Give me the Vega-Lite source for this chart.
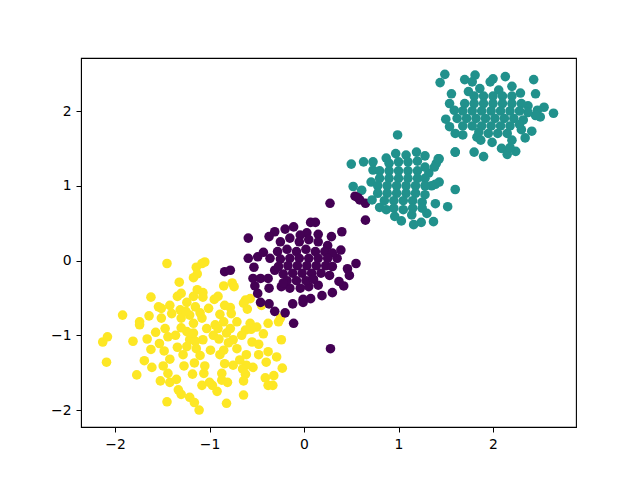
{"$schema":"https://vega.github.io/schema/vega-lite/v6.json","width":495,"height":369,"autosize":{"type":"none"},"padding":{"left":81,"top":58,"right":64,"bottom":53},"background":"white","view":{"stroke":"#000","strokeWidth":1.1,"fill":"white"},"title":{"text":"CSDN @PlutoCtx","orient":"bottom","anchor":"end","dx":48,"offset":31,"color":"#aaaaaa","fontSize":12.5,"font":"Liberation Sans","fontWeight":"normal"},
"datasets":{"pts":[
{"c":"y","x":-1.45,"y":-0.04},{"c":"y","x":-1.05,"y":-0.02},{"c":"y","x":-1.08,"y":-0.04},{"c":"y","x":-1.14,"y":-0.09},{"c":"y","x":-1.13,"y":-0.18},{"c":"y","x":-1.17,"y":-0.23},{"c":"y","x":-1.32,"y":-0.29},{"c":"y","x":-0.85,"y":-0.34},{"c":"y","x":-0.76,"y":-0.30},{"c":"y","x":-0.74,"y":-0.35},{"c":"y","x":-1.62,"y":-0.49},{"c":"y","x":-1.34,"y":-0.48},{"c":"y","x":-1.30,"y":-0.44},{"c":"y","x":-1.13,"y":-0.39},{"c":"y","x":-1.07,"y":-0.43},{"c":"y","x":-1.07,"y":-0.49},{"c":"y","x":-1.17,"y":-0.48},{"c":"y","x":-0.91,"y":-0.48},{"c":"y","x":-0.95,"y":-0.52},{"c":"y","x":-1.92,"y":-0.73},{"c":"y","x":-1.64,"y":-0.74},{"c":"y","x":-1.74,"y":-0.82},{"c":"y","x":-1.74,"y":-0.86},{"c":"y","x":-1.54,"y":-0.62},{"c":"y","x":-1.51,"y":-0.64},{"c":"y","x":-1.42,"y":-0.60},{"c":"y","x":-1.24,"y":-0.56},{"c":"y","x":-1.15,"y":-0.62},{"c":"y","x":-1.01,"y":-0.64},{"c":"y","x":-1.31,"y":-0.66},{"c":"y","x":-1.40,"y":-0.71},{"c":"y","x":-1.30,"y":-0.77},{"c":"y","x":-1.51,"y":-0.77},{"c":"y","x":-0.89,"y":-0.72},{"c":"y","x":-0.84,"y":-0.60},{"c":"y","x":-0.78,"y":-0.63},{"c":"y","x":-0.77,"y":-0.71},{"c":"y","x":-0.62,"y":-0.53},{"c":"y","x":-0.57,"y":-0.51},{"c":"y","x":-0.64,"y":-0.57},{"c":"y","x":-0.60,"y":-0.65},{"c":"y","x":-0.45,"y":-0.60},{"c":"y","x":-0.38,"y":-0.84},{"c":"y","x":-0.27,"y":-0.82},{"c":"y","x":-0.25,"y":-0.77},{"c":"y","x":-0.57,"y":-0.84},{"c":"y","x":-0.50,"y":-0.89},{"c":"y","x":-0.43,"y":-0.98},{"c":"y","x":-0.62,"y":-0.93},{"c":"y","x":-0.24,"y":-1.06},{"c":"y","x":-0.55,"y":-1.09},{"c":"y","x":-0.48,"y":-1.12},{"c":"y","x":-0.38,"y":-1.22},{"c":"y","x":-0.48,"y":-1.26},{"c":"y","x":-0.29,"y":-1.29},{"c":"y","x":-0.40,"y":-1.36},{"c":"y","x":-0.23,"y":-1.44},{"c":"y","x":-0.54,"y":-1.43},{"c":"y","x":-0.61,"y":-1.40},{"c":"y","x":-0.62,"y":-1.52},{"c":"y","x":-0.32,"y":-1.54},{"c":"y","x":-0.41,"y":-1.57},{"c":"y","x":-0.38,"y":-1.67},{"c":"y","x":-0.33,"y":-1.67},{"c":"y","x":-0.64,"y":-1.61},{"c":"y","x":-0.64,"y":-1.80},{"c":"y","x":-0.82,"y":-1.91},{"c":"y","x":-0.81,"y":-1.63},{"c":"y","x":-0.87,"y":-1.51},{"c":"y","x":-0.87,"y":-1.60},{"c":"y","x":-0.92,"y":-1.75},{"c":"y","x":-0.97,"y":-1.67},{"c":"y","x":-1.00,"y":-1.63},{"c":"y","x":-1.08,"y":-1.67},{"c":"y","x":-1.05,"y":-1.41},{"c":"y","x":-1.06,"y":-1.51},{"c":"y","x":-1.18,"y":-1.52},{"c":"y","x":-1.16,"y":-1.37},{"c":"y","x":-1.27,"y":-1.41},{"c":"y","x":-1.11,"y":-2.00},{"c":"y","x":-1.16,"y":-1.90},{"c":"y","x":-1.21,"y":-1.83},{"c":"y","x":-1.30,"y":-1.79},{"c":"y","x":-1.33,"y":-1.73},{"c":"y","x":-1.45,"y":-1.89},{"c":"y","x":-1.42,"y":-1.63},{"c":"y","x":-1.35,"y":-1.59},{"c":"y","x":-1.52,"y":-1.61},{"c":"y","x":-1.44,"y":-1.51},{"c":"y","x":-1.49,"y":-1.41},{"c":"y","x":-1.61,"y":-1.43},{"c":"y","x":-1.69,"y":-1.34},{"c":"y","x":-1.77,"y":-1.53},{"c":"y","x":-2.09,"y":-1.36},{"c":"y","x":-2.13,"y":-1.09},{"c":"y","x":-2.08,"y":-1.02},{"c":"y","x":-1.81,"y":-1.08},{"c":"y","x":-1.66,"y":-1.05},{"c":"y","x":-1.62,"y":-1.19},{"c":"y","x":-1.57,"y":-0.96},{"c":"y","x":-1.53,"y":-1.11},{"c":"y","x":-1.48,"y":-1.21},{"c":"y","x":-1.42,"y":-1.32},{"c":"y","x":-1.34,"y":-1.16},{"c":"y","x":-1.28,"y":-1.26},{"c":"y","x":-1.36,"y":-1.00},{"c":"y","x":-1.47,"y":-0.91},{"c":"y","x":-1.44,"y":-1.02},{"c":"y","x":-1.24,"y":-0.95},{"c":"y","x":-1.17,"y":-0.84},{"c":"y","x":-1.08,"y":-0.77},{"c":"y","x":-1.21,"y":-1.06},{"c":"y","x":-1.14,"y":-1.18},{"c":"y","x":-1.07,"y":-1.06},{"c":"y","x":-0.99,"y":-1.20},{"c":"y","x":-1.03,"y":-0.91},{"c":"y","x":-0.94,"y":-0.86},{"c":"y","x":-0.85,"y":-0.82},{"c":"y","x":-0.78,"y":-0.91},{"c":"y","x":-0.71,"y":-0.82},{"c":"y","x":-0.82,"y":-0.97},{"c":"y","x":-0.75,"y":-1.06},{"c":"y","x":-0.85,"y":-1.20},{"c":"y","x":-0.71,"y":-1.18},{"c":"y","x":-0.89,"y":-1.26},{"c":"y","x":-0.61,"y":-1.26},{"c":"y","x":-0.84,"y":-1.38},{"c":"y","x":-0.75,"y":-1.40},{"c":"y","x":-0.68,"y":-1.33},{"c":"y","x":-1.10,"y":-1.27},{"c":"y","x":-1.24,"y":-1.15},{"c":"y","x":-1.17,"y":-0.97},{"c":"y","x":-1.21,"y":-0.73},{"c":"y","x":-0.96,"y":-1.00},{"c":"y","x":-0.91,"y":-0.91},{"c":"y","x":-0.66,"y":-1.00},{"c":"y","x":-1.25,"y":-0.68},{"c":"y","x":-1.1,"y":-0.7},{"c":"y","x":-0.8,"y":-1.1},{"c":"y","x":-0.9,"y":-1.05},{"c":"y","x":-1.3,"y":-0.9},{"c":"y","x":-1.15,"y":-1.08},{"c":"y","x":-0.65,"y":-1.45},{"c":"y","x":-0.56,"y":-0.92},
{"c":"t","x":0.52,"y":0.99},{"c":"t","x":0.61,"y":0.94},
{"c":"p","x":0.275,"y":0.765},{"c":"p","x":0.54,"y":0.86},{"c":"p","x":0.59,"y":0.81},{"c":"p","x":0.57,"y":0.84},{"c":"p","x":0.65,"y":0.765},{"c":"p","x":0.65,"y":0.54},{"c":"p","x":0.07,"y":0.51},{"c":"p","x":0.12,"y":0.51},{"c":"p","x":-0.11,"y":0.45},{"c":"p","x":-0.20,"y":0.42},{"c":"p","x":-0.31,"y":0.385},{"c":"p","x":0.40,"y":0.385},{"c":"p","x":0.29,"y":0.32},{"c":"p","x":-0.59,"y":0.30},{"c":"p","x":-0.37,"y":0.32},{"c":"p","x":0.03,"y":0.37},{"c":"p","x":0.15,"y":0.35},{"c":"p","x":-0.04,"y":0.34},{"c":"p","x":0.39,"y":0.14},{"c":"p","x":0.35,"y":0.03},{"c":"p","x":0.55,"y":-0.04},{"c":"p","x":0.46,"y":-0.11},{"c":"p","x":0.48,"y":-0.20},{"c":"p","x":0.42,"y":-0.34},{"c":"p","x":0.37,"y":-0.28},{"c":"p","x":0.30,"y":-0.43},{"c":"p","x":0.19,"y":-0.47},{"c":"p","x":0.28,"y":-1.18},{"c":"p","x":-0.11,"y":-0.84},{"c":"p","x":-0.20,"y":-0.70},{"c":"p","x":-0.31,"y":-0.68},{"c":"p","x":-0.37,"y":-0.58},{"c":"p","x":-0.46,"y":-0.56},{"c":"p","x":-0.49,"y":-0.44},{"c":"p","x":-0.52,"y":-0.34},{"c":"p","x":-0.54,"y":-0.24},{"c":"p","x":-0.46,"y":-0.24},{"c":"p","x":-0.38,"y":-0.24},{"c":"p","x":-0.37,"y":-0.37},{"c":"p","x":-0.53,"y":-0.09},{"c":"p","x":-0.59,"y":0.03},{"c":"p","x":-0.49,"y":0.05},{"c":"p","x":-0.43,"y":0.11},{"c":"p","x":-0.36,"y":0.03},{"c":"p","x":-0.84,"y":-0.15},{"c":"p","x":-0.78,"y":-0.13},{"c":"p","x":-0.12,"y":-0.58},{"c":"p","x":-0.01,"y":-0.56},{"c":"p","x":-0.01,"y":-0.52},{"c":"p","x":0.07,"y":-0.51},{"c":"p","x":0.05,"y":-0.35},{"c":"p","x":-0.04,"y":-0.37},{"c":"p","x":-0.15,"y":-0.37},{"c":"p","x":-0.24,"y":-0.35},{"c":"p","x":0.15,"y":-0.33},{"c":"p","x":-0.31,"y":-0.13},{"c":"p","x":-0.25,"y":0.25},{"c":"p","x":-0.15,"y":0.3},{"c":"p","x":-0.05,"y":0.25},{"c":"p","x":0.05,"y":0.28},{"c":"p","x":0.15,"y":0.25},{"c":"p","x":0.25,"y":0.2},{"c":"p","x":-0.28,"y":0.12},{"c":"p","x":-0.18,"y":0.15},{"c":"p","x":-0.08,"y":0.12},{"c":"p","x":0.02,"y":0.15},{"c":"p","x":0.12,"y":0.12},{"c":"p","x":0.22,"y":0.12},{"c":"p","x":0.3,"y":0.1},{"c":"p","x":-0.25,"y":0.02},{"c":"p","x":-0.15,"y":0.03},{"c":"p","x":-0.05,"y":0.03},{"c":"p","x":0.05,"y":0.03},{"c":"p","x":0.15,"y":0.03},{"c":"p","x":0.25,"y":0.03},{"c":"p","x":-0.27,"y":-0.08},{"c":"p","x":-0.17,"y":-0.07},{"c":"p","x":-0.07,"y":-0.07},{"c":"p","x":0.03,"y":-0.07},{"c":"p","x":0.13,"y":-0.07},{"c":"p","x":0.23,"y":-0.07},{"c":"p","x":0.3,"y":-0.08},{"c":"p","x":-0.22,"y":-0.18},{"c":"p","x":-0.12,"y":-0.17},{"c":"p","x":-0.02,"y":-0.17},{"c":"p","x":0.08,"y":-0.17},{"c":"p","x":0.18,"y":-0.17},{"c":"p","x":0.27,"y":-0.2},{"c":"p","x":-0.18,"y":-0.27},{"c":"p","x":-0.08,"y":-0.27},{"c":"p","x":0.02,"y":-0.27},{"c":"p","x":0.1,"y":-0.25},{"c":"p","x":-0.22,"y":-0.3},
{"c":"t","x":0.99,"y":1.68},{"c":"t","x":0.97,"y":1.43},{"c":"t","x":1.19,"y":1.45},{"c":"t","x":1.08,"y":1.41},{"c":"t","x":1.28,"y":1.40},{"c":"t","x":0.87,"y":1.37},{"c":"t","x":0.73,"y":1.32},{"c":"t","x":0.63,"y":1.32},{"c":"t","x":0.50,"y":1.29},{"c":"t","x":1.43,"y":1.36},{"c":"t","x":1.40,"y":1.30},{"c":"t","x":1.38,"y":1.25},{"c":"t","x":1.60,"y":1.45},{"c":"t","x":1.60,"y":0.95},{"c":"t","x":1.32,"y":1.17},{"c":"t","x":1.43,"y":1.05},{"c":"t","x":1.39,"y":1.02},{"c":"t","x":1.35,"y":1.00},{"c":"t","x":0.71,"y":1.05},{"c":"t","x":0.73,"y":1.21},{"c":"t","x":0.72,"y":0.81},{"c":"t","x":1.39,"y":0.76},{"c":"t","x":1.52,"y":0.72},{"c":"t","x":1.37,"y":0.52},{"c":"t","x":1.24,"y":0.51},{"c":"t","x":1.16,"y":0.48},{"c":"t","x":1.03,"y":0.53},{"c":"t","x":0.96,"y":0.59},{"c":"t","x":0.80,"y":0.71},{"c":"t","x":0.87,"y":0.68},{"c":"t","x":1.14,"y":0.61},{"c":"t","x":1.30,"y":0.63},{"c":"t","x":1.28,"y":0.88},
{"c":"t","x":0.9,"y":1.3},{"c":"t","x":1.0,"y":1.32},{"c":"t","x":1.1,"y":1.32},{"c":"t","x":1.2,"y":1.33},{"c":"t","x":0.8,"y":1.2},{"c":"t","x":0.9,"y":1.2},{"c":"t","x":1.0,"y":1.2},{"c":"t","x":1.1,"y":1.2},{"c":"t","x":1.2,"y":1.2},{"c":"t","x":1.28,"y":1.25},{"c":"t","x":0.8,"y":1.1},{"c":"t","x":0.9,"y":1.1},{"c":"t","x":1.0,"y":1.1},{"c":"t","x":1.1,"y":1.1},{"c":"t","x":1.2,"y":1.1},{"c":"t","x":1.28,"y":1.1},{"c":"t","x":0.78,"y":1.0},{"c":"t","x":0.88,"y":1.0},{"c":"t","x":0.98,"y":1.0},{"c":"t","x":1.08,"y":1.0},{"c":"t","x":1.18,"y":1.0},{"c":"t","x":1.28,"y":1.0},{"c":"t","x":0.78,"y":0.9},{"c":"t","x":0.88,"y":0.9},{"c":"t","x":0.98,"y":0.9},{"c":"t","x":1.08,"y":0.9},{"c":"t","x":1.18,"y":0.9},{"c":"t","x":0.85,"y":0.8},{"c":"t","x":0.95,"y":0.8},{"c":"t","x":1.05,"y":0.8},{"c":"t","x":1.15,"y":0.8},{"c":"t","x":1.25,"y":0.78},{"c":"t","x":0.95,"y":0.7},{"c":"t","x":1.05,"y":0.68},{"c":"t","x":1.15,"y":0.7},{"c":"t","x":1.25,"y":0.7},
{"c":"t","x":1.49,"y":2.49},{"c":"t","x":1.44,"y":2.38},{"c":"t","x":1.70,"y":2.42},{"c":"t","x":1.81,"y":2.48},{"c":"t","x":1.78,"y":2.39},{"c":"t","x":2.00,"y":2.43},{"c":"t","x":1.97,"y":2.39},{"c":"t","x":2.13,"y":2.46},{"c":"t","x":2.43,"y":2.42},{"c":"t","x":2.45,"y":2.23},{"c":"t","x":1.56,"y":2.23},{"c":"t","x":1.74,"y":2.26},{"c":"t","x":1.86,"y":2.30},{"c":"t","x":2.06,"y":2.28},{"c":"t","x":2.20,"y":2.33},{"c":"t","x":2.29,"y":2.24},{"c":"t","x":1.54,"y":2.10},{"c":"t","x":1.59,"y":2.01},{"c":"t","x":2.37,"y":2.07},{"c":"t","x":2.54,"y":2.05},{"c":"t","x":2.47,"y":2.01},{"c":"t","x":2.64,"y":1.97},{"c":"t","x":2.50,"y":1.92},{"c":"t","x":2.45,"y":1.94},{"c":"t","x":2.37,"y":1.98},{"c":"t","x":1.50,"y":1.89},{"c":"t","x":1.54,"y":1.79},{"c":"t","x":1.60,"y":1.70},{"c":"t","x":1.68,"y":1.68},{"c":"t","x":2.41,"y":1.73},{"c":"t","x":2.34,"y":1.64},{"c":"t","x":2.30,"y":1.75},{"c":"t","x":1.83,"y":1.65},{"c":"t","x":1.87,"y":1.61},{"c":"t","x":1.99,"y":1.58},{"c":"t","x":2.20,"y":1.61},{"c":"t","x":2.09,"y":1.50},{"c":"t","x":2.15,"y":1.42},{"c":"t","x":2.24,"y":1.46},{"c":"t","x":2.18,"y":1.51},{"c":"t","x":1.60,"y":1.45},{"c":"t","x":1.80,"y":1.45},{"c":"t","x":1.90,"y":1.39},{"c":"t","x":1.42,"y":1.36},
{"c":"t","x":1.8,"y":2.2},{"c":"t","x":1.9,"y":2.2},{"c":"t","x":2.0,"y":2.2},{"c":"t","x":2.1,"y":2.2},{"c":"t","x":2.2,"y":2.2},{"c":"t","x":1.7,"y":2.1},{"c":"t","x":1.8,"y":2.1},{"c":"t","x":1.9,"y":2.1},{"c":"t","x":2.0,"y":2.1},{"c":"t","x":2.1,"y":2.1},{"c":"t","x":2.2,"y":2.1},{"c":"t","x":2.3,"y":2.1},{"c":"t","x":1.68,"y":2.0},{"c":"t","x":1.78,"y":2.0},{"c":"t","x":1.88,"y":2.0},{"c":"t","x":1.98,"y":2.0},{"c":"t","x":2.08,"y":2.0},{"c":"t","x":2.18,"y":2.0},{"c":"t","x":2.28,"y":2.0},{"c":"t","x":1.62,"y":1.9},{"c":"t","x":1.72,"y":1.9},{"c":"t","x":1.82,"y":1.9},{"c":"t","x":1.92,"y":1.9},{"c":"t","x":2.02,"y":1.9},{"c":"t","x":2.12,"y":1.9},{"c":"t","x":2.22,"y":1.9},{"c":"t","x":2.32,"y":1.88},{"c":"t","x":1.68,"y":1.8},{"c":"t","x":1.78,"y":1.8},{"c":"t","x":1.88,"y":1.8},{"c":"t","x":1.98,"y":1.8},{"c":"t","x":2.08,"y":1.8},{"c":"t","x":2.18,"y":1.8},{"c":"t","x":2.28,"y":1.82},{"c":"t","x":1.85,"y":1.72},{"c":"t","x":1.95,"y":1.7},{"c":"t","x":2.05,"y":1.7},{"c":"t","x":2.15,"y":1.7}
]},
"data":{"name":"pts"},
"mark":{"type":"point","filled":true,"opacity":1,"size":92},
"encoding":{
"x":{"field":"x","type":"quantitative","scale":{"domain":[-2.36,2.878],"nice":false,"zero":false},"axis":{"values":[-2,-1,0,1,2],"title":null,"grid":false,"domainColor":"#000","tickColor":"#000","labelColor":"#000","tickSize":5,"labelFontSize":13.9,"labelFont":"DejaVu Sans","labelPadding":5}},
"y":{"field":"y","type":"quantitative","scale":{"domain":[-2.227,2.709],"nice":false,"zero":false},"axis":{"values":[-2,-1,0,1,2],"title":null,"grid":false,"domainColor":"#000","tickColor":"#000","labelColor":"#000","tickSize":5,"labelFontSize":13.9,"labelFont":"DejaVu Sans","labelPadding":5}},
"color":{"field":"c","type":"nominal","legend":null,"scale":{"domain":["p","t","y"],"range":["#440154","#21918c","#fde725"]}}
}}
